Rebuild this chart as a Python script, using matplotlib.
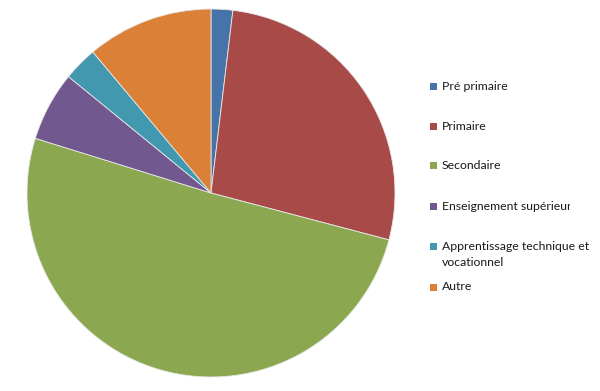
import matplotlib.pyplot as plt
from matplotlib.patches import Rectangle
from matplotlib.transforms import Bbox

labels = ['Pré primaire', 'Primaire', 'Secondaire', 'Enseignement supérieur',
          'Apprentissage technique et\nvocationnel', 'Autre']
values = [1.9, 27.2, 50.7, 6.1, 3.0, 11.1]
colors = ['#4674a8', '#a84a48', '#8ba750', '#71588f', '#4198af', '#da8137']

W, H = 600, 391
fig = plt.figure(figsize=(W / 100, H / 100), dpi=100)

# pie centred at (211, 193) px with radius 184 px
cx, cy, r = 211, 193, 184
ax = fig.add_axes([(cx - r) / W, (H - cy - r) / H, 2 * r / W, 2 * r / H])
ax.pie(values, colors=colors, startangle=90, counterclock=False,
       wedgeprops=dict(edgecolor='#e8e8e8', linewidth=0.6))
ax.set_xlim(-1, 1)
ax.set_ylim(-1, 1)
ax.set_aspect('equal')
ax.axis('off')

# legend drawn by hand to keep the Excel spacing
legend_y = [86, 126, 165, 206, 246, 287]
for lab, col, y in zip(labels, colors, legend_y):
    fig.patches.append(Rectangle((430 / W, (H - y - 3.5) / H), 7 / W, 7 / H,
                                 facecolor=col, edgecolor='none',
                                 transform=fig.transFigure))
    for i, line in enumerate(lab.split('\n')):
        t = fig.text(442 / W, (H - y - 17 * i) / H, line, fontsize=8.8,
                     family='Lato', va='center', ha='left', color='#1a1a1a')
        if '\n' not in lab:
            # excel cuts the long legend entry at the chart edge
            t.set_clip_box(Bbox([[0, 0], [570, H]]))
            t.set_clip_on(True)

fig.savefig('out.png', dpi=100, facecolor='white')
